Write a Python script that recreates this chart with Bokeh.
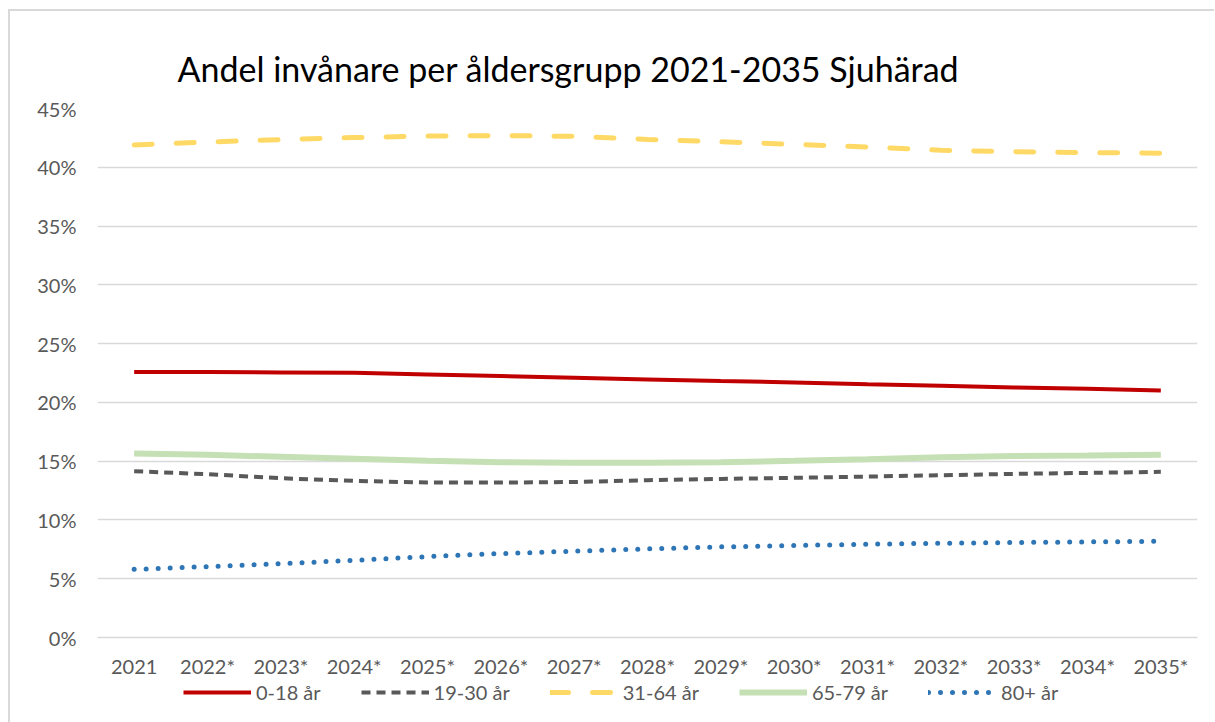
from bokeh.plotting import figure
from bokeh.layouts import column
from bokeh.models import FactorRange, Range1d, FixedTicker, Legend, LegendItem
from bokeh.embed import file_html
from bokeh.resources import INLINE

# ---- data (percent of inhabitants) ----
years = ["2021", "2022*", "2023*", "2024*", "2025*", "2026*", "2027*", "2028*",
         "2029*", "2030*", "2031*", "2032*", "2033*", "2034*", "2035*"]
age_0_18 = [22.58, 22.58, 22.55, 22.52, 22.38, 22.24, 22.09, 21.95, 21.81, 21.70,
            21.55, 21.41, 21.27, 21.15, 21.01]
age_19_30 = [14.15, 13.89, 13.55, 13.32, 13.18, 13.18, 13.23, 13.38, 13.49, 13.58,
             13.69, 13.80, 13.92, 14.00, 14.09]
age_31_64 = [41.90, 42.15, 42.35, 42.53, 42.65, 42.70, 42.63, 42.37, 42.17, 41.95,
             41.72, 41.45, 41.32, 41.25, 41.20]
age_65_79 = [15.66, 15.54, 15.37, 15.20, 15.03, 14.91, 14.86, 14.86, 14.91, 15.03,
             15.17, 15.34, 15.43, 15.48, 15.54]
age_80 = [5.80, 6.03, 6.28, 6.57, 6.88, 7.14, 7.34, 7.54, 7.71, 7.82,
          7.94, 8.02, 8.08, 8.13, 8.19]
series_names = ["0-18 år", "19-30 år", "31-64 år", "65-79 år", "80+ år"]
y_ticks = [0, 5, 10, 15, 20, 25, 30, 35, 40, 45]
y_tick_labels = ["0%", "5%", "10%", "15%", "20%", "25%", "30%", "35%", "40%", "45%"]
title_text = "Andel invånare per åldersgrupp 2021-2035 Sjuhärad"

FONT = "Lato"
TXT = "#595959"
BORDER = "2px solid #d9d9d9"

styles = [
    dict(line_color="#C00000", line_width=4),
    dict(line_color="#595959", line_width=4, line_dash="9 6"),
    dict(line_color="#FFD966", line_width=5, line_dash="18 24", line_cap="round"),
    dict(line_color="#C5E0B4", line_width=6),
    dict(line_color="#2E75B6", line_width=5, line_dash="0 12", line_cap="round"),
]
series = [age_0_18, age_19_30, age_31_64, age_65_79, age_80]

# ---- main chart ----
p = figure(x_range=FactorRange(*years), y_range=Range1d(0, 45),
           frame_width=1098, frame_height=527, output_backend="svg",
           toolbar_location=None,
           min_border_left=87, min_border_right=19, min_border_top=97,
           min_border_bottom=40)
p.margin = (9, 0, 0, 8)
p.styles = {"border-left": BORDER, "border-top": BORDER}
p.outline_line_color = None
p.background_fill_color = "white"
p.border_fill_color = "white"

p.title.text = title_text
p.title.text_font = FONT
p.title.text_font_size = "34px"
p.title.text_font_style = "normal"
p.title.text_color = "#000000"
p.title.align = "left"
p.title.offset = 80
p.title.standoff = 39

p.xgrid.grid_line_color = None
p.ygrid.grid_line_color = "#d9d9d9"
p.ygrid.grid_line_width = 1.5

p.yaxis.ticker = FixedTicker(ticks=y_ticks)
p.yaxis.major_label_overrides = {t: l for t, l in zip(y_ticks, y_tick_labels)}
for ax in (p.xaxis, p.yaxis):
    ax.axis_line_color = None
    ax.major_tick_line_color = None
    ax.minor_tick_line_color = None
    ax.major_label_text_font = FONT
    ax.major_label_text_font_size = "20px"
    ax.major_label_text_color = TXT
p.yaxis.major_label_standoff = 15
p.xaxis.major_label_standoff = 10
p.xaxis.axis_line_color = "#d9d9d9"
p.xaxis.axis_line_width = 1.5

for vals, st in zip(series, styles):
    p.line(years, vals, **st)

# ---- legend strip (same series & line styles, plotted out of view) ----
lg = figure(x_range=FactorRange(*years), y_range=Range1d(-2, -1),
            frame_width=1204, frame_height=47, output_backend="svg",
            toolbar_location=None, min_border=0,
            x_axis_location=None, y_axis_location=None)
lg.margin = (0, 0, 0, 8)
lg.styles = {"border-left": BORDER}
lg.outline_line_color = None
lg.grid.visible = False
lg.border_fill_color = "white"
lg.background_fill_color = "white"
proxies = [lg.line(years, vals, **st) for vals, st in zip(series, styles)]

legend = Legend(items=[LegendItem(label=n, renderers=[r]) for n, r in
                       zip(series_names, proxies)],
                orientation="horizontal", location=(173, 21))
legend.label_text_font = FONT
legend.label_text_font_size = "20px"
legend.label_text_color = TXT
legend.glyph_width = 68
legend.glyph_height = 20
legend.label_standoff = 5
legend.spacing = 40
legend.padding = 0
legend.margin = 0
legend.border_line_color = None
legend.background_fill_alpha = 0
lg.add_layout(legend, "center")

layout = column(p, lg, spacing=0)
open("out.html", "w").write(file_html(layout, INLINE))
